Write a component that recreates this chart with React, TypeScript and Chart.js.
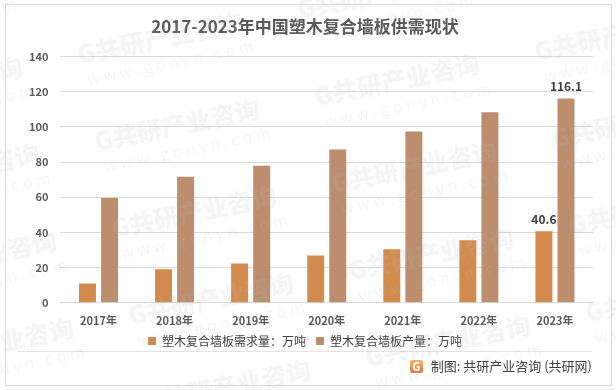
import React, { useEffect, useRef } from "react";
import { Chart, registerables } from "chart.js";

Chart.register(...registerables);

const categories = ["2017年", "2018年", "2019年", "2020年", "2021年", "2022年", "2023年"];
const demand = [11, 19, 22.3, 26.9, 30.4, 35.5, 40.6];
const production = [59.6, 71.6, 77.9, 87.1, 97.4, 108.3, 116.1];
const seriesNames = ["塑木复合墙板需求量：万吨", "塑木复合墙板产量：万吨"];
const labeledIndex = [6];
const titleText = "2017-2023年中国塑木复合墙板供需现状";
const sourceText = "制图: 共研产业咨询 (共研网)";

const FONT = '"Noto Sans CJK SC", "Noto Sans", sans-serif';

const dataLabelPlugin = {
  id: "dataLabels",
  afterDatasetsDraw(chart: any) {
    const ctx = chart.ctx;
    ctx.save();
    ctx.font = `bold 12px ${FONT}`;
    ctx.fillStyle = "#404040";
    ctx.textAlign = "center";
    ctx.textBaseline = "bottom";
    chart.data.datasets.forEach((ds: any, di: number) => {
      const meta = chart.getDatasetMeta(di);
      labeledIndex.forEach((i) => {
        const el = meta.data[i];
        if (!el) return;
        ctx.fillText(String(ds.data[i]), el.x, el.y - 6);
      });
    });
    ctx.restore();
  },
};

const watermarkPlugin = {
  id: "watermark",
  afterDraw(chart: any) {
    const ctx = chart.ctx;
    ctx.save();
    const u = [220, -45];
    const v = [17, 87];
    for (let a = -3; a <= 4; a++) {
      for (let b = -2; b <= 6; b++) {
        const cx = 177 + a * u[0] + b * v[0];
        const cy = 125 + a * u[1] + b * v[1];
        if (cx < -150 || cx > 780 || cy < -60 || cy > 450) continue;
        ctx.save();
        ctx.translate(cx, cy);
        ctx.rotate(-0.2);
        ctx.fillStyle = "rgba(185,185,185,0.15)";
        ctx.textAlign = "center";
        ctx.textBaseline = "middle";
        ctx.font = `900 25px ${FONT}`;
        ctx.fillText("G共研产业咨询", 0, 0);
        ctx.font = `16px ${FONT}`;
        ctx.fillText("w w w . g o n y n . c o m", 5, 26);
        ctx.restore();
      }
    }
    ctx.restore();
  },
};

export default function App() {
  const ref = useRef<HTMLCanvasElement>(null);

  useEffect(() => {
    if (!ref.current) return;
    const chart = new Chart(ref.current, {
      type: "bar",
      data: {
        labels: categories,
        datasets: [
          {
            label: seriesNames[0],
            data: demand,
            backgroundColor: "#D48C4E",
            categoryPercentage: 0.58,
            barPercentage: 0.77,
          },
          {
            label: seriesNames[1],
            data: production,
            backgroundColor: "#BC8E6E",
            categoryPercentage: 0.58,
            barPercentage: 0.77,
          },
        ],
      },
      options: {
        responsive: false,
        animation: false,
        devicePixelRatio: 1,
        layout: { padding: { left: 17, right: 23, top: 0, bottom: 33 } },
        plugins: {
          title: {
            display: true,
            text: titleText,
            color: "#595959",
            font: { family: FONT, size: 17, weight: "bold" },
            padding: { top: 16, bottom: 20 },
          },
          legend: {
            position: "bottom",
            labels: {
              boxWidth: 8,
              boxHeight: 8,
              color: "#404040",
              font: { family: FONT, size: 12 },
              padding: 10,
            },
          },
          tooltip: { enabled: false },
        },
        scales: {
          x: {
            grid: { display: false, drawTicks: false },
            border: { display: false },
            ticks: {
              color: "#595959",
              font: { family: FONT, size: 11, weight: "bold" },
              padding: 11,
            },
            afterFit(scale: any) {
              scale.height -= 13;
            },
          },
          y: {
            min: 0,
            max: 140,
            ticks: {
              stepSize: 20,
              color: "#595959",
              font: { family: FONT, size: 11, weight: "bold" },
              padding: 12,
            },
            grid: { color: "#d9d9d9", drawTicks: false },
            border: { display: false },
          },
        },
      },
      plugins: [dataLabelPlugin, watermarkPlugin],
    });
    return () => chart.destroy();
  }, []);

  return (
    <div style={{ position: "fixed", left: 0, top: 0, width: 616, height: 390, background: "#fff", fontFamily: FONT }}>
      <div style={{ position: "absolute", left: 5, top: 4, width: 605, height: 380, border: "1px solid #d9d9d9" }} />
      <div style={{ position: "absolute", left: 17, top: 351, width: 575, height: 1, background: "#e3e3e3" }} />
      <canvas ref={ref} width={616} height={390} style={{ position: "absolute", left: 0, top: 0 }} />
      <div
        style={{
          position: "absolute",
          right: 24,
          top: 357,
          fontSize: 13,
          lineHeight: "18px",
          color: "#404040",
          display: "flex",
          alignItems: "center",
          whiteSpace: "nowrap",
        }}
      >
        <span
          style={{
            display: "inline-block",
            width: 13,
            height: 13,
            borderRadius: 2,
            background: "linear-gradient(180deg,#f6b26b,#e8743b)",
            color: "#fff",
            fontSize: 11,
            fontWeight: 900,
            lineHeight: "13px",
            textAlign: "center",
            marginRight: 8,
          }}
        >
          G
        </span>
        <span>{sourceText}</span>
      </div>
    </div>
  );
}
